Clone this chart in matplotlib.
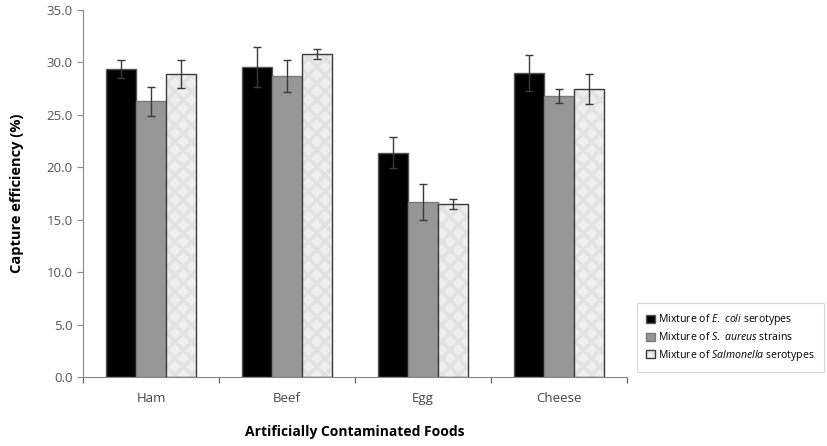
import matplotlib
matplotlib.use("Agg")
import matplotlib.pyplot as plt
import numpy as np

categories = ["Ham", "Beef", "Egg", "Cheese"]
ecoli = [29.4, 29.6, 21.4, 29.0]
ecoli_err = [0.85, 1.9, 1.5, 1.7]
saureus = [26.3, 28.7, 16.7, 26.8]
saureus_err = [1.4, 1.5, 1.7, 0.7]
salmonella = [28.9, 30.8, 16.5, 27.45]
salmonella_err = [1.3, 0.5, 0.45, 1.45]
series_labels = [r"Mixture of $\mathit{E.\ coli}$ serotypes",
                 r"Mixture of $\mathit{S.\ aureus}$ strains",
                 r"Mixture of $\mathit{Salmonella}$ serotypes"]
yticks = np.arange(0, 35.1, 5.0)

plt.rcParams['font.family'] = ['Open Sans', 'DejaVu Sans']
plt.rcParams['mathtext.fontset'] = 'custom'
plt.rcParams['mathtext.rm'] = 'Open Sans'
plt.rcParams['mathtext.it'] = 'Open Sans:italic'
plt.rcParams['hatch.linewidth'] = 2.5

fig = plt.figure(figsize=(8.27, 4.46), dpi=100)
ax = fig.add_axes([83/827, 1 - 377/446, (627-83)/827, (377-10)/446])

x = np.arange(len(categories))
w = 0.22
styles = [
    dict(facecolor="black", edgecolor="#555555", hatch=None),
    dict(facecolor="#969696", edgecolor="#7a7a7a", hatch=None),
    dict(facecolor="#efefef", edgecolor="#3a3a3a", hatch="xx"),
]
data = [(ecoli, ecoli_err), (saureus, saureus_err), (salmonella, salmonella_err)]
handles = []
for i, ((vals, errs), st, lab) in enumerate(zip(data, styles, series_labels)):
    b = ax.bar(x + (i - 1) * w, vals, w, facecolor=st["facecolor"],
               edgecolor=st["edgecolor"], linewidth=1.0, label=lab,
               yerr=errs, capsize=3,
               error_kw=dict(ecolor="#3a3a3a", elinewidth=1.0, capthick=1.0),
               zorder=2)
    if st["hatch"]:
        for p in b.patches:
            p.set_hatch(st["hatch"])
            p._hatch_color = matplotlib.colors.to_rgba("#e2e2e2")
    handles.append(b)

ax.set_ylim(0, 35)
ax.set_xlim(-0.5, len(categories) - 0.5)
ax.set_yticks(yticks)
ax.set_yticklabels([f"{v:.1f}" for v in yticks], color="#555555", fontsize=9.5)
ax.set_xticks(np.arange(-0.5, len(categories), 1.0))
ax.set_xticklabels([])
ax.set_xticks(x, minor=True)
ax.set_xticklabels(categories, minor=True, color="#444444", fontsize=9.5)
ax.tick_params(axis="x", which="minor", length=0, pad=11)
ax.tick_params(axis="x", which="major", length=4, color="#555555", direction="out")
ax.tick_params(axis="y", length=4, color="#888888", direction="out")

for s in ["top", "right"]:
    ax.spines[s].set_visible(False)
ax.spines["left"].set_color("#888888")
ax.spines["bottom"].set_color("#888888")

ax.set_ylabel("Capture efficiency (%)", fontsize=10.5, fontweight="bold", labelpad=16)
fig.text(355/827, 1 - 432/446, "Artificially Contaminated Foods", fontsize=10,
         fontweight="bold", ha="center", va="center")

leg = fig.legend(handles=handles, labels=series_labels, loc="upper left",
                 bbox_to_anchor=(632/827, 1 - 298/446), fontsize=7.6,
                 frameon=True, fancybox=False, handlelength=0.8, handleheight=0.8,
                 handletextpad=0.3, labelspacing=0.4, borderpad=0.85)
leg.get_frame().set_edgecolor("#cccccc")
leg.get_frame().set_linewidth(0.8)

fig.savefig("out.png", dpi=100)
